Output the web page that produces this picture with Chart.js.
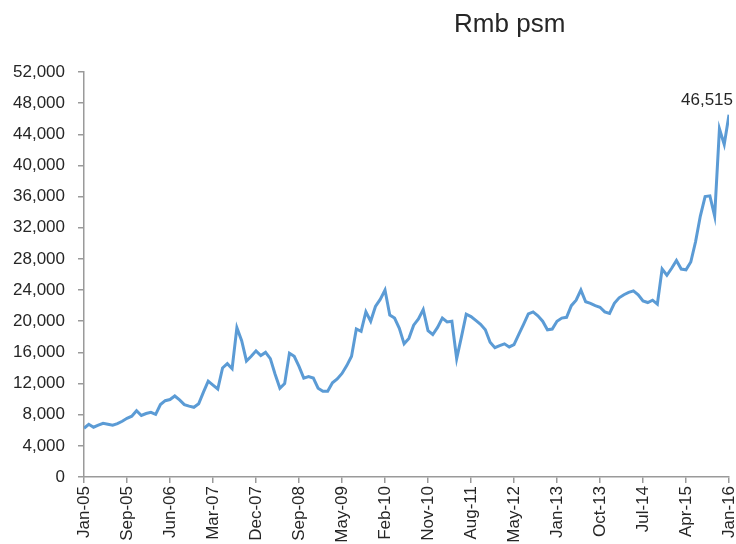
<!DOCTYPE html>
<html>
<head>
<meta charset="utf-8">
<script src="https://cdn.jsdelivr.net/npm/chart.js@4/dist/chart.umd.min.js"></script>
<style>
  html, body { margin: 0; padding: 0; background: #fff; }
  #wrap { width: 736px; height: 544px; position: relative; }
</style>
</head>
<body>
<div id="wrap"><canvas id="chart"></canvas></div>
<script>
// tick labels shown on the x axis (one every 9 periods)
const tickLabels = ["Jan-05", "Sep-05", "Jun-06", "Mar-07", "Dec-07", "Sep-08", "May-09", "Feb-10",
  "Nov-10", "Aug-11", "May-12", "Jan-13", "Oct-13", "Jul-14", "Apr-15", "Jan-16"];
const tickStep = 9;
// average price, Rmb per square metre, one value per period
const prices = [
  6260, 6770, 6390, 6650, 6900, 6770, 6650, 6850, 7150, 7540,
  7800, 8500, 7900, 8150, 8300, 8050, 9300, 9800, 9950, 10400,
  9900, 9300, 9100, 8950, 9400, 10900, 12300, 11800, 11300, 14000,
  14550, 13900, 19170, 17500, 14900, 15500, 16200, 15600, 16000, 15200,
  13200, 11400, 12000, 15900, 15500, 14200, 12700, 12900, 12700, 11400,
  11000, 11000, 12100, 12600, 13300, 14300, 15500, 19000, 18700, 21200,
  20000, 21900, 22800, 24000, 20800, 20400, 19100, 17100, 17800, 19500,
  20300, 21500, 18800, 18300, 19200, 20400, 19900, 20000, 15200, 18000,
  20900, 20600, 20100, 19600, 18900, 17300, 16600, 16870, 17100, 16700,
  17000, 18300, 19600, 20950, 21200, 20700, 20000, 18900, 19000, 20000,
  20400, 20500, 22000, 22700, 24000, 22500, 22300, 22000, 21800, 21200,
  21000, 22300, 23000, 23400, 23700, 23900, 23400, 22600, 22400, 22700,
  22200, 26700, 25900, 26800, 27800, 26700, 26600, 27600, 30200, 33500,
  36000, 36100, 33500, 44700, 42700, 46515
];
const unitLabel = "Rmb psm";

const axisGrey = "#9a9a9a";
const textColor = "#262626";
const font = { family: "Liberation Sans, Arial, sans-serif", size: 17 };

// writes the unit title and the label on the last point
const labelsPlugin = {
  id: "labels",
  afterDraw(chart) {
    const ctx = chart.ctx;
    const area = chart.chartArea;
    const xs = chart.scales.x, ys = chart.scales.y;
    ctx.save();
    ctx.fillStyle = textColor;
    ctx.font = "26px Liberation Sans, Arial, sans-serif";
    ctx.textAlign = "center";
    ctx.textBaseline = "middle";
    ctx.fillText(unitLabel, area.left + (area.right - area.left) * 0.66, 25);

    const last = prices.length - 1;
    const px = xs.getPixelForValue(last);
    const py = ys.getPixelForValue(prices[last]);
    ctx.font = "17px Liberation Sans, Arial, sans-serif";
    ctx.textAlign = "right";
    ctx.textBaseline = "bottom";
    ctx.fillText(prices[last].toLocaleString("en-US"), px + 4, py - 6);
    ctx.restore();
  }
};

new Chart(document.getElementById("chart"), {
  type: "line",
  data: {
    datasets: [{
      data: prices.map((v, i) => ({ x: i, y: v })),
      borderColor: "#5b9bd5",
      borderWidth: 3,
      pointRadius: 0,
      tension: 0,
      fill: false
    }]
  },
  options: {
    responsive: true,
    maintainAspectRatio: false,
    animation: false,
    layout: { padding: { top: 72, right: 7, left: 0, bottom: 0 } },
    plugins: { legend: { display: false }, tooltip: { enabled: false } },
    scales: {
      x: {
        type: "linear",
        min: 0,
        max: prices.length - 1,
        afterFit: (s) => { s.height = 67; s.paddingLeft = 0; s.paddingRight = 0; },
        border: { display: true, color: axisGrey, width: 1.5 },
        grid: { display: true, drawOnChartArea: false, drawTicks: true, tickLength: 6, color: axisGrey, lineWidth: 1.5 },
        ticks: {
          stepSize: tickStep,
          autoSkip: false,
          maxRotation: 90,
          minRotation: 90,
          padding: 3,
          color: textColor,
          font: font,
          callback: (v) => tickLabels[Math.round(v / tickStep)] || ""
        }
      },
      y: {
        min: 0,
        max: 52000,
        afterFit: (s) => { s.width = 84; s.paddingTop = 0; s.paddingBottom = 0; },
        border: { display: true, color: axisGrey, width: 1.5 },
        grid: { display: true, drawOnChartArea: false, drawTicks: true, tickLength: 6, color: axisGrey, lineWidth: 1.5 },
        ticks: {
          stepSize: 4000,
          padding: 13,
          color: textColor,
          font: font,
          callback: (v) => v.toLocaleString("en-US")
        }
      }
    }
  },
  plugins: [labelsPlugin]
});
</script>
</body>
</html>
